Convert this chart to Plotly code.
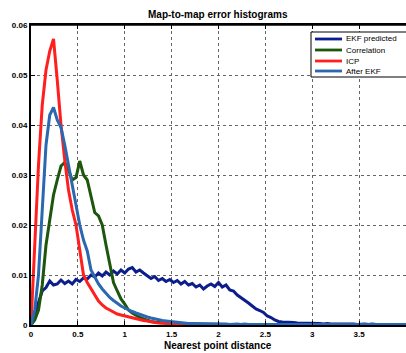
import numpy as np
import plotly.graph_objects as go

# Bin centres of the nearest-point distance histograms
distance = np.round(np.arange(0, 4.0001, 0.04), 2)

series_names = ["EKF predicted", "Correlation", "ICP", "After EKF"]
series_colors = ["#0c1d8c", "#1d560c", "#ff1f1f", "#2a68b0"]

ekf_predicted = [
    0.000, 0.0020, 0.0045, 0.0068, 0.0075, 0.0088, 0.0080, 0.0082, 0.0090, 0.0083,
    0.0088, 0.0082, 0.0091, 0.0087, 0.0094, 0.0092, 0.0100, 0.0096, 0.0104, 0.0098,
    0.0106, 0.0100, 0.0108, 0.0102, 0.0110, 0.0104, 0.0112, 0.0115, 0.0106, 0.0110,
    0.0104, 0.0098, 0.0093, 0.0097, 0.0089, 0.0093, 0.0087, 0.0091, 0.0085, 0.0089,
    0.0082, 0.0087, 0.0080, 0.0083, 0.0076, 0.0080, 0.0072, 0.0078, 0.0082, 0.0077,
    0.0085, 0.0076, 0.0080, 0.0070, 0.0068, 0.0060, 0.0055, 0.0050, 0.0044, 0.0038,
    0.0032, 0.0029, 0.0025, 0.0018, 0.0015, 0.0010, 0.0007, 0.0006, 0.0006, 0.0005,
    0.0005, 0.0004, 0.0004, 0.0003, 0.0004, 0.0003, 0.0003, 0.0003, 0.0002, 0.0003,
    0.0002, 0.0002, 0.0003, 0.0002, 0.0002, 0.0002, 0.0002, 0.0001, 0.0002, 0.0002,
    0.0001, 0.0002, 0.0001, 0.0001, 0.0002, 0.0001, 0.0001, 0.0001, 0.0001, 0.0001,
    0.0001,
]

correlation = [
    0.000, 0.0010, 0.0030, 0.0080, 0.0160, 0.0210, 0.0260, 0.0290, 0.0318, 0.0325,
    0.0310, 0.0290, 0.0295, 0.0328, 0.0300, 0.0290, 0.0260, 0.0225, 0.0218, 0.0200,
    0.0160, 0.0120, 0.0085, 0.0068, 0.0052, 0.0042, 0.0030, 0.0024, 0.0019, 0.0015,
    0.0012, 0.0009, 0.0007, 0.0006, 0.0005, 0.0004, 0.0003, 0.0003, 0.0002, 0.0002,
    0.0002, 0.0001, 0.0001, 0.0001, 0.0001, 0.0001, 0.0001, 0.0001, 0.0000, 0.0001,
    0.0000, 0.0000, 0.0000, 0.0000, 0.0000, 0.0000, 0.0000, 0.0000, 0.0000, 0.0000,
    0.0000, 0.0000, 0.0000, 0.0000, 0.0000, 0.0000, 0.0000, 0.0000, 0.0000, 0.0000,
    0.0000, 0.0000, 0.0000, 0.0000, 0.0000, 0.0000, 0.0000, 0.0000, 0.0000, 0.0000,
    0.0000, 0.0000, 0.0000, 0.0000, 0.0000, 0.0000, 0.0000, 0.0000, 0.0000, 0.0000,
    0.0000, 0.0000, 0.0000, 0.0000, 0.0000, 0.0000, 0.0000, 0.0000, 0.0000, 0.0000,
    0.0000,
]

icp = [
    0.000, 0.0170, 0.0320, 0.0440, 0.0510, 0.0548, 0.0572, 0.0490, 0.0400, 0.0330,
    0.0270, 0.0230, 0.0200, 0.0150, 0.0100, 0.0085, 0.0072, 0.0058, 0.0048, 0.0040,
    0.0034, 0.0030, 0.0026, 0.0022, 0.0020, 0.0018, 0.0016, 0.0014, 0.0012, 0.0010,
    0.0009, 0.0008, 0.0006, 0.0005, 0.0004, 0.0004, 0.0003, 0.0003, 0.0002, 0.0002,
    0.0002, 0.0001, 0.0002, 0.0001, 0.0001, 0.0002, 0.0001, 0.0001, 0.0001, 0.0001,
    0.0001, 0.0001, 0.0000, 0.0001, 0.0000, 0.0000, 0.0001, 0.0000, 0.0000, 0.0000,
    0.0000, 0.0000, 0.0000, 0.0000, 0.0000, 0.0000, 0.0000, 0.0000, 0.0000, 0.0000,
    0.0000, 0.0000, 0.0000, 0.0000, 0.0000, 0.0000, 0.0000, 0.0000, 0.0000, 0.0000,
    0.0000, 0.0000, 0.0000, 0.0000, 0.0000, 0.0000, 0.0000, 0.0000, 0.0000, 0.0000,
    0.0000, 0.0000, 0.0000, 0.0000, 0.0000, 0.0000, 0.0000, 0.0000, 0.0000, 0.0000,
    0.0000,
]

after_ekf = [
    0.000, 0.0030, 0.0100, 0.0230, 0.0360, 0.0420, 0.0435, 0.0410, 0.0395, 0.0360,
    0.0320, 0.0280, 0.0240, 0.0200, 0.0170, 0.0148, 0.0110, 0.0095, 0.0082, 0.0072,
    0.0063, 0.0055, 0.0049, 0.0043, 0.0038, 0.0034, 0.0030, 0.0027, 0.0024, 0.0021,
    0.0018, 0.0016, 0.0014, 0.0012, 0.0010, 0.0009, 0.0008, 0.0007, 0.0006, 0.0005,
    0.0004, 0.0004, 0.0003, 0.0003, 0.0003, 0.0003, 0.0002, 0.0003, 0.0002, 0.0002,
    0.0002, 0.0002, 0.0002, 0.0001, 0.0002, 0.0002, 0.0001, 0.0002, 0.0001, 0.0001,
    0.0002, 0.0001, 0.0001, 0.0001, 0.0001, 0.0001, 0.0001, 0.0001, 0.0001, 0.0001,
    0.0001, 0.0001, 0.0001, 0.0001, 0.0001, 0.0001, 0.0001, 0.0001, 0.0001, 0.0001,
    0.0001, 0.0001, 0.0001, 0.0001, 0.0001, 0.0001, 0.0001, 0.0001, 0.0001, 0.0001,
    0.0001, 0.0001, 0.0001, 0.0001, 0.0001, 0.0001, 0.0001, 0.0001, 0.0001, 0.0001,
    0.0001,
]

x_ticks = [0, 0.5, 1, 1.5, 2, 2.5, 3, 3.5, 4]
y_ticks = [0, 0.01, 0.02, 0.03, 0.04, 0.05, 0.06]

W, H = 406, 353
ML, MR, MT, MB = 31, 0, 25, 28
PW, PH = W - ML - MR, H - MT - MB

FONT = "Liberation Sans, Arial, sans-serif"

fig = go.Figure()
for name, color, values in zip(series_names, series_colors,
                                [ekf_predicted, correlation, icp, after_ekf]):
    fig.add_trace(go.Scatter(
        x=distance, y=values, mode="lines", name=name,
        line=dict(color=color, width=3), showlegend=False,
    ))


def px_x(px):
    return (px - ML) / PW


def px_y(py):
    return (H - MB - py) / PH


# Top frame edge of the axes box
shapes = [dict(type="line", xref="paper", yref="paper", x0=0, x1=1, y0=1, y1=1,
               line=dict(color="black", width=1.5))]

# Hand-built legend box in the upper right corner
shapes.append(dict(type="rect", xref="paper", yref="paper",
                   x0=px_x(311), x1=px_x(407), y0=px_y(77), y1=px_y(32),
                   line=dict(color="black", width=1), fillcolor="white", layer="above"))
annotations = []
row_y = [39, 50, 61, 71]
for name, color, ry in zip(series_names, series_colors, row_y):
    shapes.append(dict(type="line", xref="paper", yref="paper",
                       x0=px_x(315), x1=px_x(342), y0=px_y(ry), y1=px_y(ry),
                       line=dict(color=color, width=2.8), layer="above"))
    annotations.append(dict(xref="paper", yref="paper", x=px_x(344), y=px_y(ry),
                            text=name, showarrow=False, xanchor="left", yanchor="middle",
                            font=dict(family=FONT, size=8, color="black")))

annotations.append(dict(xref="paper", yref="paper", x=px_x(218), y=px_y(15),
                        text="<b>Map-to-map error histograms</b>", showarrow=False,
                        xanchor="center", yanchor="middle",
                        font=dict(family=FONT, size=10, color="black")))
annotations.append(dict(xref="paper", yref="paper", x=px_x(218), y=px_y(345),
                        text="<b>Nearest point distance</b>", showarrow=False,
                        xanchor="center", yanchor="middle",
                        font=dict(family=FONT, size=10, color="black")))

fig.update_layout(
    width=W, height=H,
    margin=dict(l=ML, r=MR, t=MT, b=MB, pad=0),
    paper_bgcolor="white", plot_bgcolor="white",
    shapes=shapes, annotations=annotations,
    showlegend=False,
)
fig.update_xaxes(
    range=[0, 4], tickvals=x_ticks, ticktext=[f"<b>{t:g}</b>" for t in x_ticks],
    showgrid=True, gridcolor="#666", griddash="dot", gridwidth=1,
    zeroline=False, showline=True, linecolor="black", linewidth=2,
    mirror="ticks", ticks="inside", ticklen=4, tickcolor="black",
    tickfont=dict(family=FONT, size=8, color="black"),
)
fig.update_yaxes(
    range=[0, 0.06], tickvals=y_ticks, ticktext=[f"<b>{t:g}</b>" for t in y_ticks],
    showgrid=True, gridcolor="#666", griddash="dot", gridwidth=1,
    zeroline=False, showline=True, linecolor="black", linewidth=2,
    ticks="inside", ticklen=4, tickcolor="black",
    tickfont=dict(family=FONT, size=8, color="black"),
)

fig.write_html("out.html")
